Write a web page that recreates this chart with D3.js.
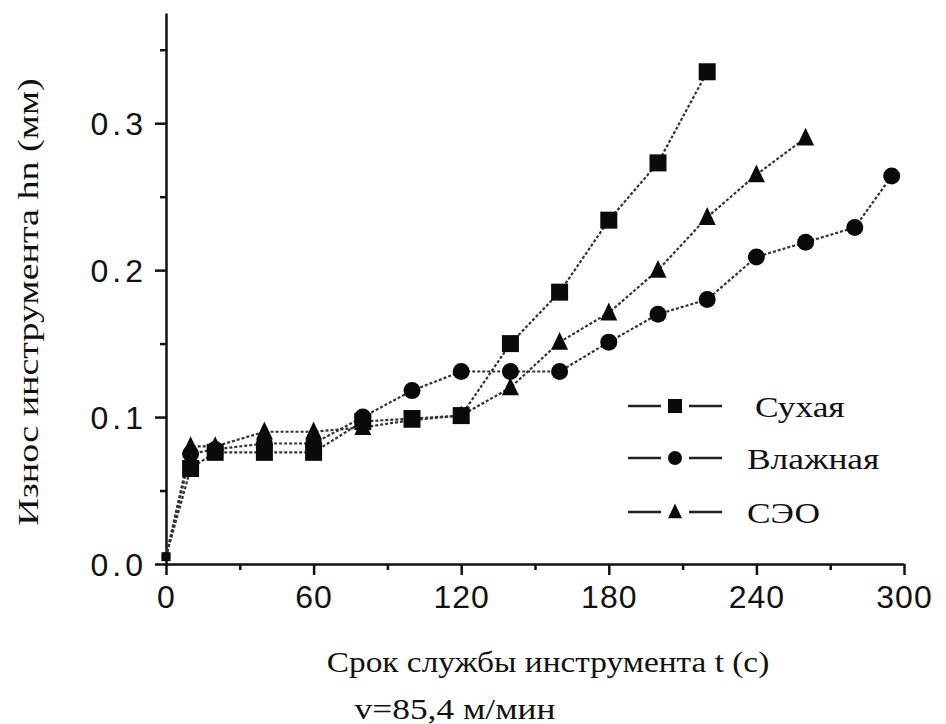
<!DOCTYPE html>
<html>
<head>
<meta charset="utf-8">
<script src="https://cdn.jsdelivr.net/npm/d3@7"></script>
<style>
  html, body { margin: 0; padding: 0; background: #fff; }
  svg { display: block; }
</style>
</head>
<body>
<svg id="chart" width="946" height="724"></svg>
<script>
// ---- data ----
const timeDry = [0, 10, 20, 40, 60, 80, 100, 120, 140, 160, 180, 200, 220];
const wearDry = [0.005, 0.065, 0.076, 0.076, 0.076, 0.097, 0.099, 0.101, 0.150, 0.185, 0.234, 0.273, 0.335];

const timeWet = [0, 10, 20, 40, 60, 80, 100, 120, 140, 160, 180, 200, 220, 240, 260, 280, 295];
const wearWet = [0.005, 0.075, 0.078, 0.082, 0.082, 0.100, 0.118, 0.131, 0.131, 0.131, 0.151, 0.170, 0.180, 0.209, 0.219, 0.229, 0.264];

const timeSeo = [0, 10, 20, 40, 60, 80, 100, 120, 140, 160, 180, 200, 220, 240, 260];
const wearSeo = [0.005, 0.080, 0.080, 0.090, 0.090, 0.093, 0.098, 0.101, 0.120, 0.151, 0.171, 0.200, 0.236, 0.265, 0.290];

const seriesNames = ["Сухая", "Влажная", "СЭО"];
const seriesMarkers = ["square", "circle", "triangle"];

const xMajorTicks = [0, 60, 120, 180, 240, 300];
const xMinorTicks = [30, 90, 150, 210, 270];
const yMajorTicks = [0.0, 0.1, 0.2, 0.3];
const yMinorTicks = [0.05, 0.15, 0.25, 0.35];

const xTitle = "Срок службы инструмента t (с)";
const yTitle = "Износ инструмента hn (мм)";
const subTitle = "v=85,4 м/мин";

// ---- drawing ----
const svg = d3.select("#chart");
const x = d3.scaleLinear().domain([0, 300]).range([166, 904]);
const y = d3.scaleLinear().domain([0, 0.375]).range([564, 13]);

const series = [
  { name: seriesNames[0], marker: seriesMarkers[0], pts: timeDry.map((t, i) => [t, wearDry[i]]) },
  { name: seriesNames[1], marker: seriesMarkers[1], pts: timeWet.map((t, i) => [t, wearWet[i]]) },
  { name: seriesNames[2], marker: seriesMarkers[2], pts: timeSeo.map((t, i) => [t, wearSeo[i]]) }
];

const tickFont = "'Liberation Sans', Arial, sans-serif";
const serif = "'Liberation Serif', 'Times New Roman', serif";

// axes
const xAxisMajor = d3.axisBottom(x).tickValues(xMajorTicks).tickSize(11).tickSizeOuter(0).tickPadding(6)
  .tickFormat(d3.format("d"));
const gx = svg.append("g").attr("transform", `translate(0,${y(0)})`).call(xAxisMajor);
gx.append("g").call(d3.axisBottom(x).tickValues(xMinorTicks).tickSize(6).tickFormat(""))
  .select(".domain").remove();

const yAxisMajor = d3.axisLeft(y).tickValues(yMajorTicks).tickSize(11).tickSizeOuter(0).tickPadding(8)
  .tickFormat(d3.format(".1f"));
const gy = svg.append("g").attr("transform", `translate(${x(0)},0)`).call(yAxisMajor);
gy.append("g").call(d3.axisLeft(y).tickValues(yMinorTicks).tickSize(6).tickFormat(""))
  .select(".domain").remove();

[gx, gy].forEach(g => {
  g.selectAll(".domain").attr("stroke", "#111").attr("stroke-width", 2.5);
  g.selectAll(".tick line").attr("stroke", "#111").attr("stroke-width", 2.5);
  g.selectAll(".tick text").attr("fill", "#111").attr("font-family", tickFont)
    .attr("font-size", 32).attr("letter-spacing", 1);
});
gx.selectAll(".tick text").attr("dy", "0.85em");
gy.selectAll(".tick text").attr("dy", "0.36em").attr("letter-spacing", 4);

// lines
const line = d3.line().x(d => x(d[0])).y(d => y(d[1]));
series.forEach(s => {
  svg.append("path").datum(s.pts)
    .attr("d", line).attr("fill", "none")
    .attr("stroke", "#333").attr("stroke-width", 2.2)
    .attr("stroke-dasharray", "3,2");
});

// markers
function drawMarker(g, type, cx, cy, size) {
  if (type === "square") {
    g.append("rect").attr("x", cx - size / 2).attr("y", cy - size / 2)
      .attr("width", size).attr("height", size).attr("fill", "#0a0a0a");
  } else if (type === "circle") {
    g.append("circle").attr("cx", cx).attr("cy", cy).attr("r", size / 2)
      .attr("fill", "#0a0a0a");
  } else {
    const h = size;
    g.append("path")
      .attr("d", `M${cx},${cy - h * 0.6} L${cx + h / 2},${cy + h * 0.45} L${cx - h / 2},${cy + h * 0.45} Z`)
      .attr("fill", "#0a0a0a");
  }
}
const gm = svg.append("g");
series.forEach(s => {
  s.pts.forEach(p => {
    const sz = p[0] === 0 ? 9 : 17;
    drawMarker(gm, s.marker, x(p[0]), y(p[1]), sz);
  });
});

// legend
const legendRows = [406, 458, 512];
const lg = svg.append("g");
series.forEach((s, i) => {
  const ly = legendRows[i];
  lg.append("line").attr("x1", 628).attr("x2", 661).attr("y1", ly).attr("y2", ly)
    .attr("stroke", "#222").attr("stroke-width", 2.5);
  lg.append("line").attr("x1", 689).attr("x2", 722).attr("y1", ly).attr("y2", ly)
    .attr("stroke", "#222").attr("stroke-width", 2.5);
  drawMarker(lg, s.marker, 675, ly, 14);
  lg.append("text").attr("transform", `translate(${i === 0 ? 755 : 747},${ly}) scale(1.18,1)`)
    .attr("dy", "0.35em")
    .attr("font-family", serif).attr("font-size", 30).attr("fill", "#111").text(s.name);
});

// titles
svg.append("text").attr("transform", "translate(548,672) scale(1.15,1)").attr("text-anchor", "middle")
  .attr("font-family", serif).attr("font-size", 29).attr("fill", "#111").text(xTitle);
svg.append("text").attr("transform", "translate(455,719) scale(1.22,1)").attr("text-anchor", "middle")
  .attr("font-family", serif).attr("font-size", 29).attr("fill", "#111").text(subTitle);
svg.append("text").attr("transform", "translate(38,302) rotate(-90) scale(1.27,1)").attr("text-anchor", "middle")
  .attr("font-family", serif).attr("font-size", 30).attr("fill", "#111").text(yTitle);
</script>
</body>
</html>
